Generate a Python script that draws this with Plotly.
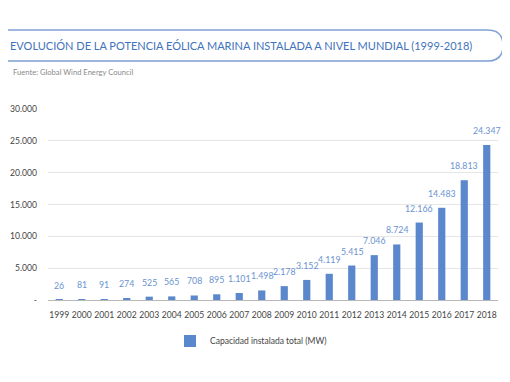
import plotly.graph_objects as go

years = [1999, 2000, 2001, 2002, 2003, 2004, 2005, 2006, 2007, 2008,
         2009, 2010, 2011, 2012, 2013, 2014, 2015, 2016, 2017, 2018]
capacity = [26, 81, 91, 274, 525, 565, 708, 895, 1101, 1498,
            2178, 3152, 4119, 5415, 7046, 8724, 12166, 14483, 18813, 24347]
value_labels = ["26", "81", "91", "274", "525", "565", "708", "895", "1.101", "1.498",
                "2.178", "3.152", "4.119", "5.415", "7.046", "8.724", "12.166", "14.483", "18.813", "24.347"]
y_tickvals = [0, 5000, 10000, 15000, 20000, 25000, 30000]
y_ticktext = ["-", "5.000", "10.000", "15.000", "20.000", "25.000", "30.000"]

title_text = "EVOLUCIÓN DE LA POTENCIA EÓLICA MARINA INSTALADA A NIVEL MUNDIAL (1999-2018)"
source_text = "Fuente: Global Wind Energy Council"
series_name = "Capacidad instalada total (MW)"

# page body has an 8px margin: figure is drawn offset by it
OFF = 8
W, H = 510 - OFF, 382 - OFF
FONT = "Lato"
BAR = "#5b87cc"
LABEL = "#6a93d0"
TITLE = "#3f73bb"

def px(x):
    return (x - OFF) / W

def py(y):
    return 1 - (y - OFF) / H

fig = go.Figure()
fig.add_trace(go.Bar(
    x=years, y=capacity, name=series_name,
    marker=dict(color=BAR, line=dict(width=0)),
    width=0.32, showlegend=True,
))

annotations = []
for yr, v, t in zip(years, capacity, value_labels):
    annotations.append(dict(x=yr, y=v, xref="x", yref="y", text=t, showarrow=False,
                            yanchor="bottom", yshift=7,
                            font=dict(family=FONT, size=8.8, color=LABEL)))

annotations.append(dict(x=px(8), y=py(46), xref="paper", yref="paper", text=title_text,
                        showarrow=False, xanchor="left", yanchor="middle",
                        font=dict(family=FONT, size=11, color=TITLE)))
annotations.append(dict(x=px(11), y=py(72), xref="paper", yref="paper", text=source_text,
                        showarrow=False, xanchor="left", yanchor="middle",
                        font=dict(family=FONT, size=7.6, color="#8a8a8a")))

# rounded title frame
x0, x1, yt, yb = OFF, 503, 30, 61
r = (yb - yt) / 2
path = (f"M {px(x0)},{py(yt)} L {px(x1 - r)},{py(yt)} "
        f"Q {px(x1)},{py(yt)} {px(x1)},{py(yt + r)} "
        f"Q {px(x1)},{py(yb)} {px(x1 - r)},{py(yb)} L {px(x0)},{py(yb)}")
shapes = [dict(type="path", xref="paper", yref="paper", path=path,
               line=dict(color="#7fa0d4", width=1.5))]

fig.update_layout(
    width=W, height=H, autosize=False,
    margin=dict(l=0, r=0, t=0, b=0, autoexpand=False),
    paper_bgcolor="white", plot_bgcolor="white",
    xaxis=dict(type="linear", domain=[px(48), px(498)], range=[1998.5, 2018.5],
               tickmode="array", tickvals=years, ticktext=[str(y) for y in years],
               showgrid=False, showline=False, zeroline=False, ticks="", tickangle=0,
               automargin=False,
               tickfont=dict(family=FONT, size=8.6, color="#444444"),
               ticklabelstandoff=8, fixedrange=True),
    yaxis=dict(domain=[py(300), py(109)], range=[0, 30000], tickvals=y_tickvals,
               ticktext=y_ticktext, showgrid=True, gridcolor="#e6e6e6", gridwidth=1.2,
               zeroline=True, zerolinecolor="#b8b8b8", zerolinewidth=1.2,
               showline=False, ticks="", ticklabelstandoff=10, automargin=False,
               fixedrange=True,
               tickfont=dict(family=FONT, size=8.6, color="#444444")),
    legend=dict(orientation="h", x=px(170), y=py(341), xanchor="left", yanchor="middle",
                font=dict(family=FONT, size=8.5, color="#444444"), itemwidth=30),
    annotations=annotations,
    shapes=shapes,
)

fig.write_html("out.html")
